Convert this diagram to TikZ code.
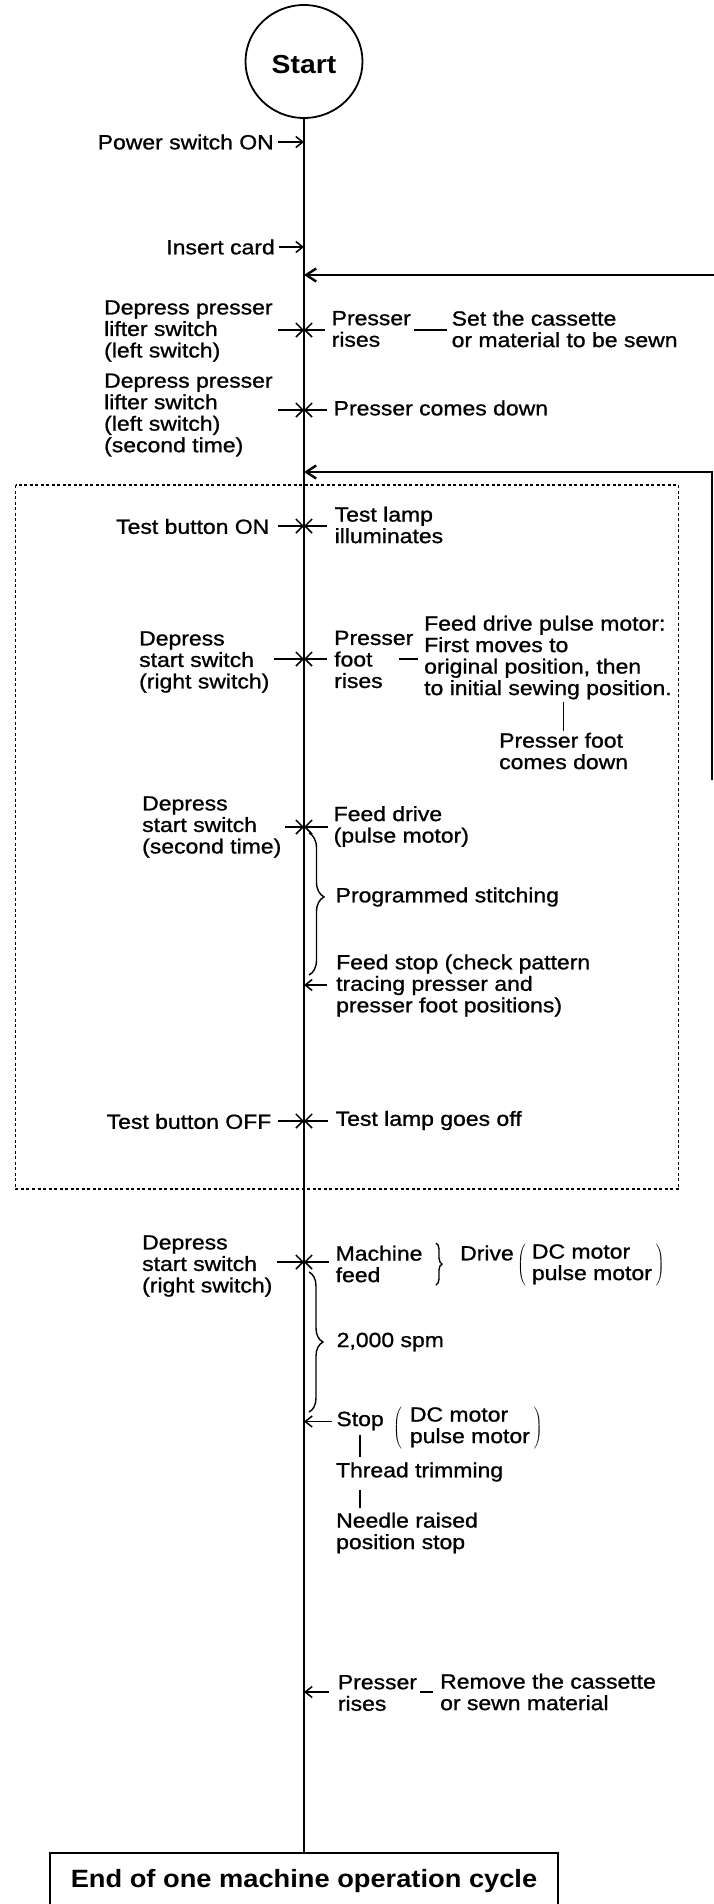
\documentclass[tikz,border=0pt]{standalone}
\usepackage{fontspec}
\setmainfont{Liberation Sans}[FakeStretch=1.09]
\newfontfamily\regfont{Liberation Sans}[FakeStretch=1.12,FakeBold=1.0]
\usetikzlibrary{arrows.meta,shapes.geometric,decorations.pathreplacing}
\begin{document}
\begin{tikzpicture}[x=1pt,y=-1pt,
  txt/.style={inner sep=0pt, align=left, font=\regfont\fontsize{20.5}{21.5}\selectfont},
  lt/.style={txt, anchor=west},
  rt/.style={txt, anchor=east},
  mainline/.style={line width=2.6pt},
  arr/.style={line width=1.5pt, -{Straight Barb[length=7pt,width=11pt]}},
  xarr/.style={line width=1.5pt, -{Straight Barb[length=7pt,width=14pt]}},
  fb/.style={line width=2.4pt, -{Straight Barb[length=10pt,width=13pt]}},
  conn/.style={line width=1.4pt},
  dotbox/.style={line width=1.2pt, dash pattern=on 3pt off 2.5pt},
  bracestyle/.style={line width=1.4pt, decorate, decoration={brace, amplitude=#1}},
]
\useasboundingbox (0,0) rectangle (714,1904);
\fill[white] (0,0) rectangle (714,1904);
\clip (0,0) rectangle (714,1904);

% start and end
\node[draw, ellipse, line width=1.8pt, minimum width=117pt, minimum height=113pt, inner sep=0pt,
      font=\bfseries\fontsize{26}{28}\selectfont, text height=25pt] (start) at (304,61.5) {Start};
\node[draw, line width=2pt, minimum width=508pt, minimum height=57pt, anchor=north,
      font=\bfseries\fontsize{25}{28}\selectfont] (end) at (304,1852) {End of one machine operation cycle};
\draw[mainline] (start.south) -- (end.north);

% dotted test box
\draw[dotbox] (15.5,485) rectangle (678.5,1189);

% points on the main line
\coordinate (c1) at (304,142);
\coordinate (c2) at (304,247);
\coordinate (fb1) at (304,275);
\coordinate (c3) at (304,330);
\coordinate (c4) at (304,410);
\coordinate (fb2) at (304,472);
\coordinate (c5) at (304,526);
\coordinate (c6) at (304,659);
\coordinate (c7) at (304,827);
\coordinate (c8) at (304,985);
\coordinate (c9) at (304,1121);
\coordinate (c10) at (304,1262);
\coordinate (c11) at (304,1421.5);
\coordinate (c12) at (304,1692);

% power / card
\node[rt] (power) at (274,142) {Power switch ON};
\draw[arr, shorten <=4pt] (power.east) -- (c1);
\node[rt] (insert) at (275,247) {Insert card};
\draw[arr, shorten <=4pt] (insert.east) -- (c2);

% feedback lines
\coordinate (fb1r) at (722,275);
\draw[fb] (fb1r) -- (fb1);
\coordinate (fb2e) at (712,780);
\coordinate (fb2c) at (712,472);
\draw[fb] (fb2e) -- (fb2c) -- (fb2);

% presser lifter switch
\node[lt] (dp1) at (104,331) {Depress presser\\lifter switch\\(left switch)};
\node[lt] (pr1) at (331.5,329) {Presser\\rises};
\node[lt] (set1) at (451.5,329) {Set the cassette\\or material to be sewn};
\draw[xarr, shorten <=5pt] (dp1.east |- c3) -- (c3);
\draw[xarr, shorten <=7pt] (pr1.west |- c3) -- (c3);
\draw[conn, shorten <=3pt, shorten >=5pt] (pr1.east |- c3) -- (set1.west |- c3);

\node[lt] (dp2) at (104,415) {Depress presser\\lifter switch\\(left switch)\\(second time)};
\node[lt] (pcd) at (333.5,408) {Presser comes down};
\draw[xarr, shorten <=5pt] (dp2.east |- c4) -- (c4);
\draw[xarr, shorten <=7pt] (pcd.west |- c4) -- (c4);

% test button on
\node[rt] (tbon) at (269.5,526.5) {Test button ON};
\node[lt] (tli) at (334.5,525) {Test lamp\\illuminates};
\draw[xarr, shorten <=8pt] (tbon.east |- c5) -- (c5);
\draw[xarr, shorten <=8pt] (tli.west |- c5) -- (c5);

% start switch
\node[lt] (ds1) at (139,662) {Depress\\start switch\\(right switch)};
\node[lt] (pfr) at (334,659.5) {Presser\\foot\\rises};
\node[lt] (fdp) at (424,657.5) {Feed drive pulse motor:\\First moves to\\original position, then\\to initial sewing position.};
\node[lt] (pfd) at (499,751) {Presser foot\\comes down};
\draw[xarr, shorten <=4pt] (ds1.east |- c6) -- (c6);
\draw[xarr, shorten <=7pt] (pfr.west |- c6) -- (c6);
\draw[conn, shorten >=6.5pt] ([xshift=-25pt]fdp.west |- c6) -- (fdp.west |- c6);
\draw[conn, shorten <=2pt, shorten >=2pt] (pfd.north |- fdp.south) -- (pfd.north);

% second time
\node[lt] (ds2) at (142,827) {Depress\\start switch\\(second time)};
\node[lt] (fdr) at (333.5,826.5) {Feed drive\\(pulse motor)};
\draw[xarr, shorten <=4pt] (ds2.east |- c7) -- (c7);
\draw[xarr, shorten <=6pt] (fdr.west |- c7) -- (c7);

\coordinate (b1t) at (309,833);
\coordinate (b1b) at (309,975);
\draw[bracestyle=15pt, decoration={aspect=0.45}] (b1t) -- (b1b);
\node[lt] (prog) at (335.5,897) {Programmed stitching};

\node[lt] (fstop) at (336,985.5) {Feed stop (check pattern\\tracing presser and\\presser foot positions)};
\draw[arr, shorten <=9pt] (fstop.west |- c8) -- (c8);

% test button off
\node[rt] (tboff) at (271.5,1121.5) {Test button OFF};
\node[lt] (tlo) at (335.5,1120.5) {Test lamp goes off};
\draw[xarr, shorten <=6pt] (tboff.east |- c9) -- (c9);
\draw[xarr, shorten <=8pt] (tlo.west |- c9) -- (c9);

% machine operation
\node[lt] (ds3) at (142,1266) {Depress\\start switch\\(right switch)};
\node[lt] (mf) at (335.5,1264) {Machine\\feed};
\draw[xarr, shorten <=4pt] (ds3.east |- c10) -- (c10);
\draw[xarr, shorten <=7pt] (mf.west |- c10) -- (c10);
\coordinate (mbt) at (436,1243);
\coordinate (mbb) at (436,1285);
\draw[bracestyle=6pt] (mbt) -- (mbb);
\node[lt] (drive) at (460,1253) {Drive};
\node[lt] (dcm1) at (517,1265) {$\left(\hspace{6pt}\begin{tabular}{@{}l@{}}DC motor\\pulse motor\end{tabular}\hspace{4pt}\right)$};

\coordinate (b2t) at (309,1272);
\coordinate (b2b) at (309,1412);
\draw[bracestyle=14pt] (b2t) -- (b2b);
\node[lt] (spm) at (336.5,1342) {2,000 spm};

\node[lt] (stop) at (336.3,1421) {Stop};
\draw[arr, shorten <=4pt] (stop.west |- c11) -- (c11);
\node[lt] (dcm2) at (393,1428) {$\left(\hspace{8pt}\begin{tabular}{@{}l@{}}DC motor\\pulse motor\end{tabular}\hspace{4pt}\right)$};
\node[lt] (thread) at (335.8,1472) {Thread trimming};
\node[lt] (needle) at (336,1533) {Needle raised\\position stop};
\draw[conn, shorten <=4pt, shorten >=5pt] (stop.south) -- (stop.south |- thread.north);
\draw[conn, shorten <=8pt, shorten >=5pt] (stop.south |- thread.south) -- (stop.south |- needle.north);

% presser rises at end
\node[lt] (pr2) at (337.7,1693) {Presser\\rises};
\node[lt] (rem) at (440,1692) {Remove the cassette\\or sewn material};
\draw[arr, shorten <=9pt] (pr2.west |- c12) -- (c12);
\draw[conn, line width=1.6pt, shorten <=2.5pt, shorten >=7.5pt] (pr2.east |- c12) -- (rem.west |- c12);
\end{tikzpicture}
\end{document}
